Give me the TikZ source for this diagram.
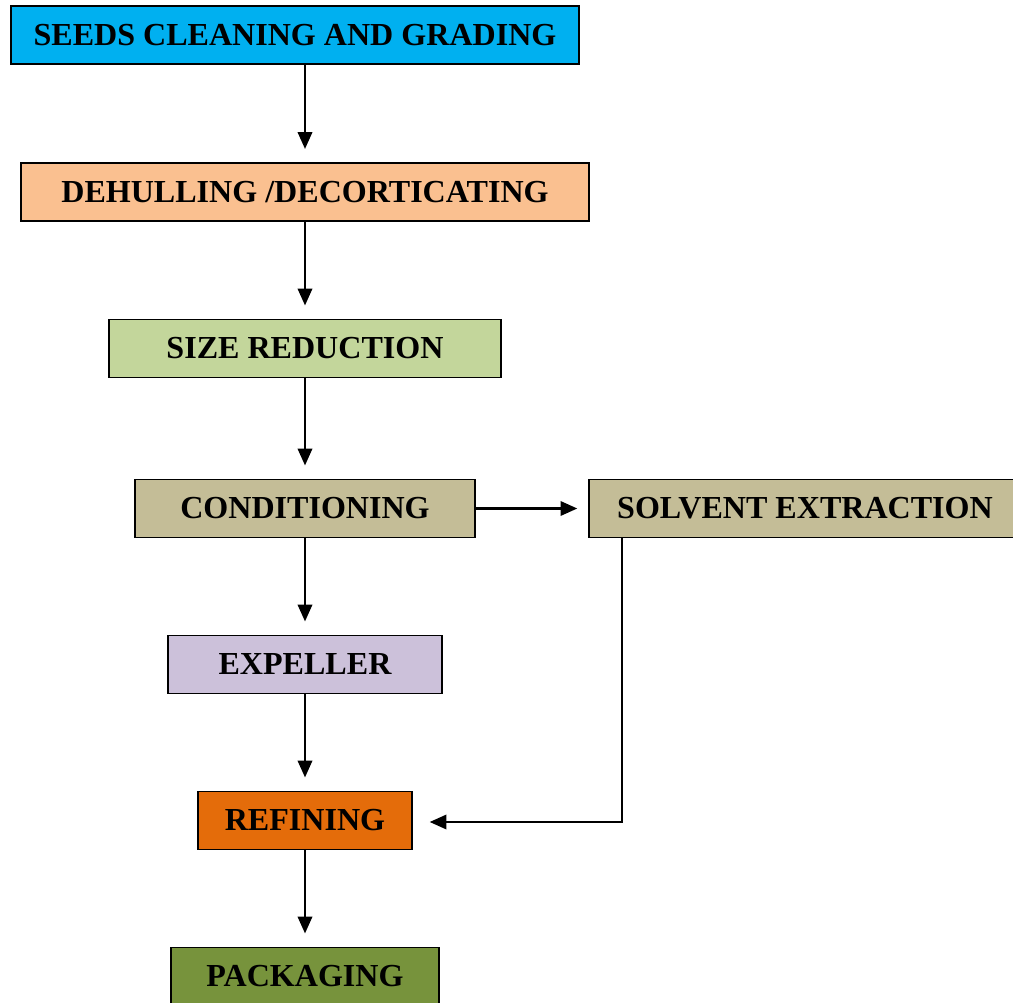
\documentclass[tikz,border=0pt]{standalone}
\usepackage{fontspec}
\setmainfont{Liberation Serif}
\usepackage{tikz}
\usetikzlibrary{arrows.meta}

\definecolor{seedblue}{HTML}{00B0F0}
\definecolor{peach}{HTML}{FAC090}
\definecolor{lightolive}{HTML}{C3D69B}
\definecolor{tan}{HTML}{C4BD97}
\definecolor{lavender}{HTML}{CCC1DA}
\definecolor{rust}{HTML}{E46C0A}
\definecolor{olive}{HTML}{77933C}

\tikzset{
  stage/.style={draw=black, line width=1.2pt, inner sep=0pt, minimum height=1.45cm,
    font=\fontsize{22.8}{27}\selectfont\bfseries},
  flow/.style={line width=1.6pt, -{Triangle[length=0.42cm,width=0.36cm]}, shorten >=0.33cm}
}

\begin{document}
\begin{tikzpicture}[x=0.025cm,y=-0.025cm]

\clip (0,0) rectangle (1013,1003);

\node[stage,fill=seedblue,minimum width=14.2cm] (seeds) at (295,35) {SEEDS CLEANING AND GRADING};
\node[stage,fill=peach,minimum width=14.2cm] (dehull) at (305,192) {DEHULLING /DECORTICATING};
\node[stage,fill=lightolive,minimum width=9.8cm] (size) at (305,348.5) {SIZE REDUCTION};
\node[stage,fill=tan,minimum width=8.5cm] (cond) at (305,508.5) {CONDITIONING};
\node[stage,fill=tan,minimum width=10.8cm] (solvent) at (805,508.5) {SOLVENT EXTRACTION};
\node[stage,fill=lavender,minimum width=6.85cm] (expel) at (305,664.5) {EXPELLER};
\node[stage,fill=rust,minimum width=5.35cm] (refine) at (305,820.5) {REFINING};
\node[stage,fill=olive,minimum width=6.7cm] (pack) at (305,976.5) {PACKAGING};

\coordinate (bend) at (622,822);

\draw[flow] (seeds.south -| dehull.north) -- (dehull.north);
\draw[flow] (dehull) -- (size);
\draw[flow] (size) -- (cond);
\draw[flow] (cond) -- (expel);
\draw[flow] (expel) -- (refine);
\draw[flow] (refine) -- (pack);
\draw[flow,shorten >=0.27cm] (cond.east) -- (solvent.west);
\draw[flow,shorten >=0.42cm] (bend |- solvent.south) -- (bend) -- (refine.east |- bend);

\end{tikzpicture}
\end{document}
